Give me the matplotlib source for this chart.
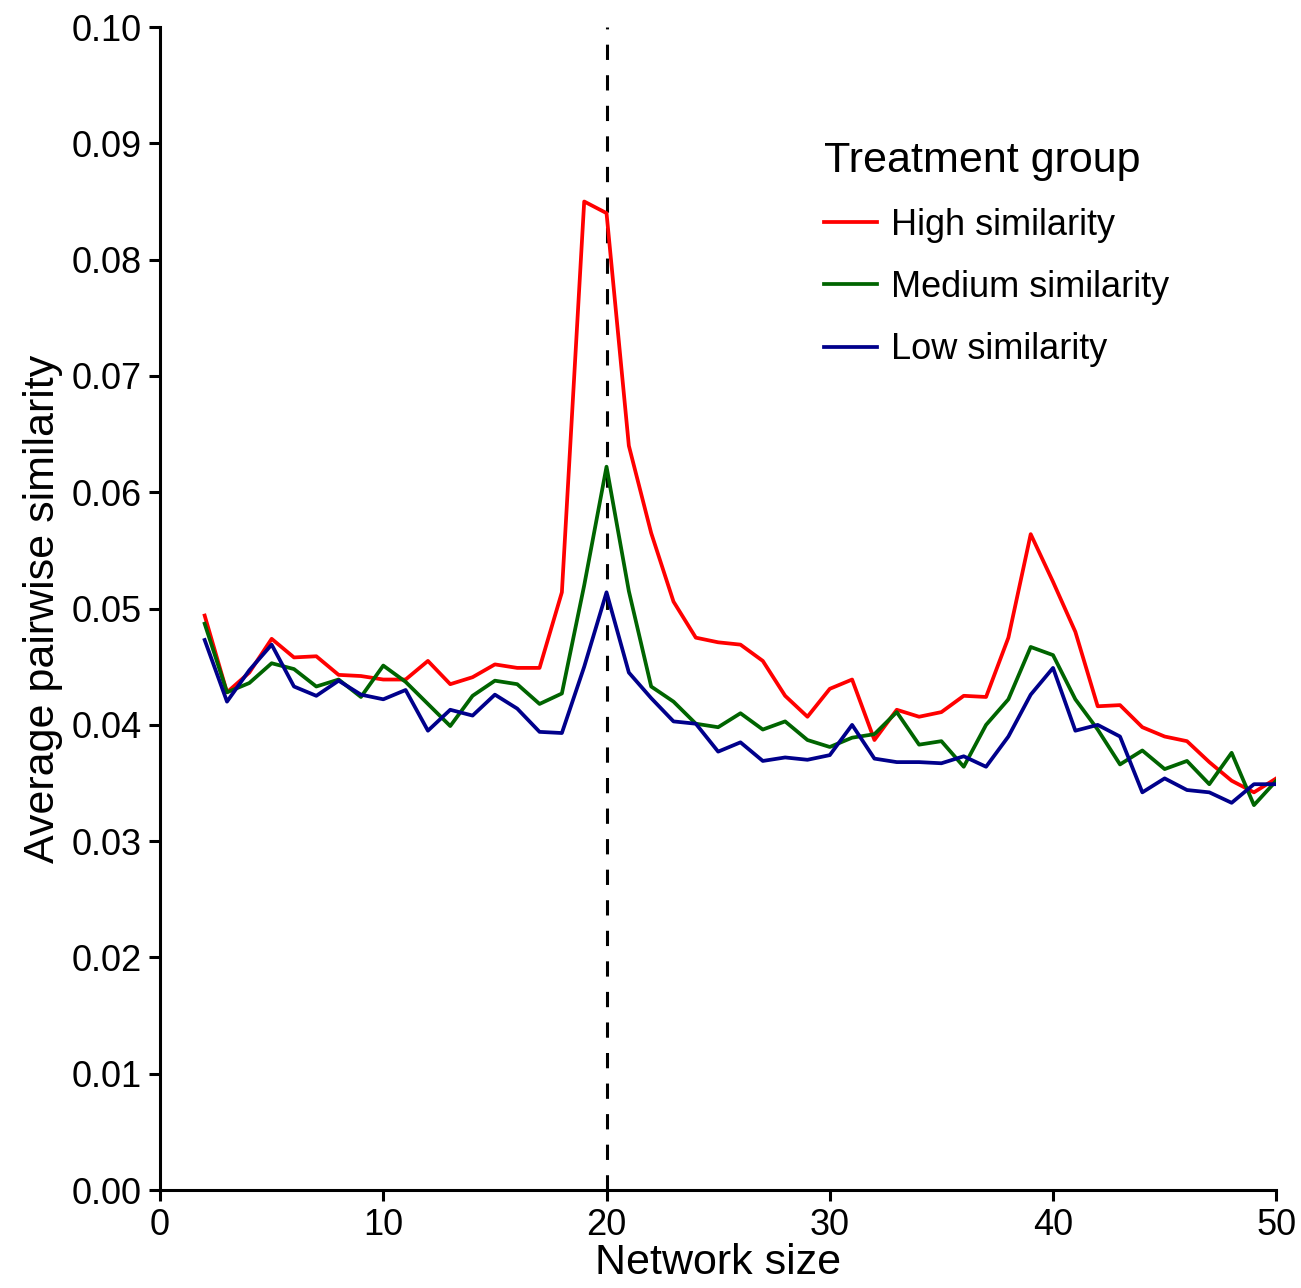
import numpy as np
import matplotlib
matplotlib.use('Agg')
from matplotlib import pyplot as plt

plt.rcParams['font.family'] = ['Liberation Sans', 'DejaVu Sans']

network_size = list(range(2, 51))

high = [0.0494, 0.0428, 0.0445, 0.0474, 0.0458, 0.0459, 0.0443, 0.0442, 0.0439,
        0.0439, 0.0455, 0.0435, 0.0441, 0.0452, 0.0449, 0.0449, 0.0514, 0.0850,
        0.0840, 0.0640, 0.0565, 0.0506, 0.0475, 0.0471, 0.0469, 0.0455, 0.0425,
        0.0407, 0.0431, 0.0439, 0.0387, 0.0413, 0.0407, 0.0411, 0.0425, 0.0424,
        0.0475, 0.0564, 0.0523, 0.0480, 0.0416, 0.0417, 0.0398, 0.0390, 0.0386,
        0.0368, 0.0352, 0.0342, 0.0354]
medium = [0.0487, 0.0428, 0.0436, 0.0453, 0.0448, 0.0433, 0.0439, 0.0424, 0.0451,
          0.0437, 0.0418, 0.0399, 0.0425, 0.0438, 0.0435, 0.0418, 0.0427, 0.0520,
          0.0622, 0.0515, 0.0433, 0.0420, 0.0401, 0.0398, 0.0410, 0.0396, 0.0403,
          0.0387, 0.0381, 0.0389, 0.0392, 0.0411, 0.0383, 0.0386, 0.0364, 0.0400,
          0.0422, 0.0467, 0.0460, 0.0422, 0.0396, 0.0366, 0.0378, 0.0362, 0.0369,
          0.0349, 0.0376, 0.0331, 0.0352]
low = [0.0473, 0.0420, 0.0447, 0.0469, 0.0433, 0.0425, 0.0438, 0.0426, 0.0422,
       0.0430, 0.0395, 0.0413, 0.0408, 0.0426, 0.0414, 0.0394, 0.0393, 0.0450,
       0.0514, 0.0445, 0.0423, 0.0403, 0.0401, 0.0377, 0.0385, 0.0369, 0.0372,
       0.0370, 0.0374, 0.0400, 0.0371, 0.0368, 0.0368, 0.0367, 0.0373, 0.0364,
       0.0390, 0.0426, 0.0449, 0.0395, 0.0400, 0.0390, 0.0342, 0.0354, 0.0344,
       0.0342, 0.0333, 0.0349, 0.0349]

cutoff = 20

fig = plt.figure(figsize=(13.01, 12.88), dpi=100)
ax = fig.add_axes([0.123, 0.076, 0.858, 0.903])

ax.axvline(cutoff, color='black', lw=2.2, ls=(0, (5, 5)), zorder=1)
ax.plot(network_size, high, color='#ff0000', lw=2.7, label='High similarity')
ax.plot(network_size, medium, color='#006400', lw=2.7, label='Medium similarity')
ax.plot(network_size, low, color='#00008b', lw=2.7, label='Low similarity')

ax.set_xlim(0, 50)
ax.set_ylim(0, 0.10)
ax.set_xticks([0, 10, 20, 30, 40, 50])
ax.set_yticks(np.arange(0, 0.101, 0.01))
ax.set_yticklabels(['%.2f' % v for v in np.arange(0, 0.101, 0.01)])

for s in ['top', 'right']:
    ax.spines[s].set_visible(False)
for s in ['left', 'bottom']:
    ax.spines[s].set_linewidth(2.2)
ax.tick_params(direction='out', length=8, width=2.2, labelsize=26, pad=5)

ax.set_xlabel('Network size', fontsize=31, labelpad=0)
ax.set_ylabel('Average pairwise similarity', fontsize=31, labelpad=6)

leg = ax.legend(title='Treatment group', loc='upper left', bbox_to_anchor=(0.566, 0.93),
                frameon=False, fontsize=26, title_fontsize=31, handlelength=1.45,
                handletextpad=0.4, labelspacing=0.75)
leg._legend_box.align = 'left'

fig.savefig('out.png', dpi=100)
